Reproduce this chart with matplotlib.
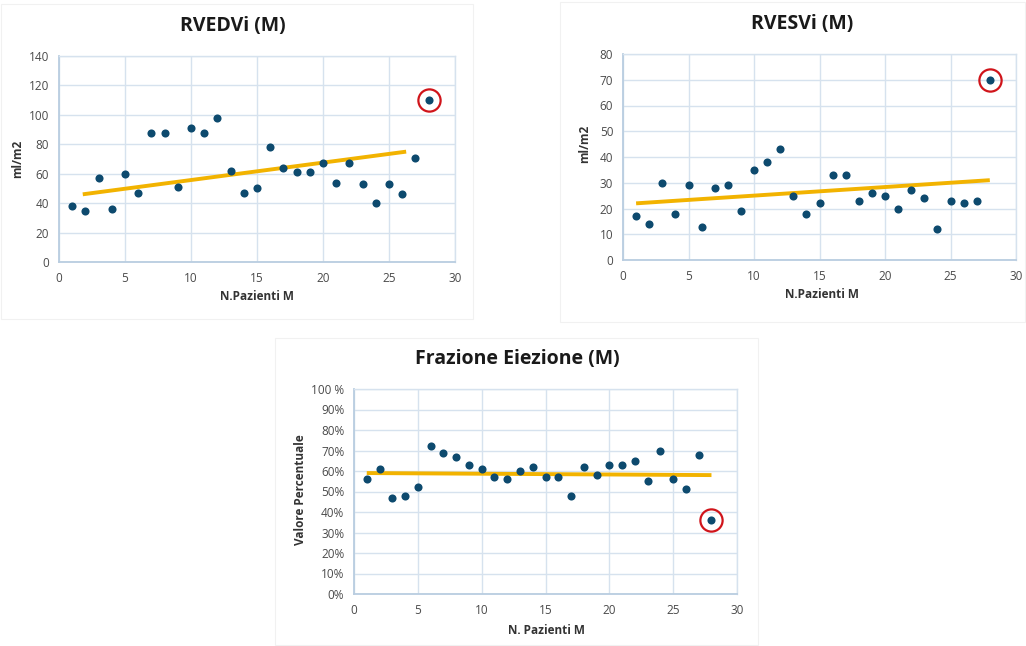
import matplotlib
matplotlib.use("Agg")
import matplotlib.pyplot as plt
from matplotlib.patches import Rectangle
import numpy as np

plt.rcParams['font.family'] = ['Open Sans', 'DejaVu Sans']

patients = list(range(1, 29))

rvedvi = [38, 35, 57, 36, 60, 47, 88, 88, 51, 91, 88, 98, 62, 47, 50, 78,
          64, 61, 61, 67, 54, 67, 53, 40, 53, 46, 71, 110]
rvedvi_trend_x = [1.8, 26.3]
rvedvi_trend_y = [46, 75]

rvesvi = [17, 14, 30, 18, 29, 13, 28, 29, 19, 35, 38, 43, 25, 18, 22, 33,
          33, 23, 26, 25, 20, 27, 24, 12, 23, 22, 23, 70]
rvesvi_trend_x = [1, 28]
rvesvi_trend_y = [22, 31]

fe = [56, 61, 47, 48, 52, 72, 69, 67, 63, 61, 57, 56, 60, 62, 57, 57,
      48, 62, 58, 63, 63, 65, 55, 70, 56, 51, 68, 36]
fe_trend_x = [1, 28]
fe_trend_y = [59, 58]

fe_ticks = [0, 10, 20, 30, 40, 50, 60, 70, 80, 90, 100]
fe_ticklabels = ["0%", "10%", "20%", "30%", "40%", "50%", "60%", "70%",
                 "80%", "90%", "100 %"]

outlier_index = 27

DOT = "#0d4a6e"
TREND = "#f2b300"
RED = "#d0141a"
GRID = "#d6e2ee"
SPINE = "#b9cde0"
TICK = "#4a4a4a"

W, H = 1026, 646
fig = plt.figure(figsize=(W / 100, H / 100), dpi=100)
fig.patch.set_facecolor("white")


def fx(x):
    return x / W


def fy(y):
    return 1 - y / H


# faint panel borders
for (x0, y0, x1, y1) in [(1, 4, 473, 319), (560, 2, 1025, 322), (275, 338, 758, 645)]:
    fig.patches.append(Rectangle((fx(x0), fy(y1)), fx(x1) - fx(x0), fy(y0) - fy(y1),
                                 transform=fig.transFigure, fill=False,
                                 edgecolor="#f1f1f1", linewidth=0.8))


def panel(rect, y, tx, ty, ylim, yticks, title, xlabel, ylabel, title_xy, xlabel_xy,
          ylabel_xy, yticklabels=None):
    left, top, right, bottom = rect
    ax = fig.add_axes([fx(left), fy(bottom), fx(right) - fx(left), fy(top) - fy(bottom)])
    ax.set_xlim(0, 30)
    ax.set_ylim(*ylim)
    ax.set_xticks([0, 5, 10, 15, 20, 25, 30])
    ax.set_yticks(yticks)
    if yticklabels is not None:
        ax.set_yticklabels(yticklabels)
    ax.grid(True, color=GRID, linewidth=1.0)
    ax.set_axisbelow(True)
    for s in ["top", "right"]:
        ax.spines[s].set_color(GRID)
        ax.spines[s].set_linewidth(1.0)
    for s in ["left", "bottom"]:
        ax.spines[s].set_color(SPINE)
        ax.spines[s].set_linewidth(1.3)
    ax.tick_params(length=0, labelsize=8.5, labelcolor=TICK, pad=7)
    ax.plot(tx, ty, color=TREND, linewidth=2.8, solid_capstyle="butt", zorder=2)
    ax.scatter(patients, y, s=34, color=DOT, zorder=3, linewidths=0)
    ax.plot([patients[outlier_index]], [y[outlier_index]], marker="o", markersize=16,
            markerfacecolor="none", markeredgecolor=RED, markeredgewidth=1.6,
            linestyle="none", zorder=4, clip_on=False)
    fig.text(fx(title_xy[0]), fy(title_xy[1]), title, ha="center", va="center",
             fontsize=14, fontweight="bold", color="#1a1a1a")
    fig.text(fx(xlabel_xy[0]), fy(xlabel_xy[1]), xlabel, ha="center", va="center",
             fontsize=8.5, fontweight="bold", color="#333333")
    fig.text(fx(ylabel_xy[0]), fy(ylabel_xy[1]), ylabel, ha="center", va="center",
             rotation=90, fontsize=8.5, fontweight="bold", color="#333333")
    return ax


panel((59, 56, 455, 262), rvedvi, rvedvi_trend_x, rvedvi_trend_y, (0, 140),
      list(range(0, 141, 20)), "RVEDVi (M)", "N.Pazienti M", "ml/m2",
      (233, 26), (257, 297), (18, 159))

panel((623, 54, 1016, 260), rvesvi, rvesvi_trend_x, rvesvi_trend_y, (0, 80),
      list(range(0, 81, 10)), "RVESVi (M)", "N.Pazienti M", "ml/m2",
      (802, 24), (822, 295), (585, 144))

panel((354, 389, 737, 594), fe, fe_trend_x, fe_trend_y, (0, 100),
      fe_ticks, "Frazione Eiezione (M)", "N. Pazienti M", "Valore Percentuale",
      (517, 359), (546, 630), (300, 490), yticklabels=fe_ticklabels)

fig.savefig("out.png", dpi=100, facecolor="white")
